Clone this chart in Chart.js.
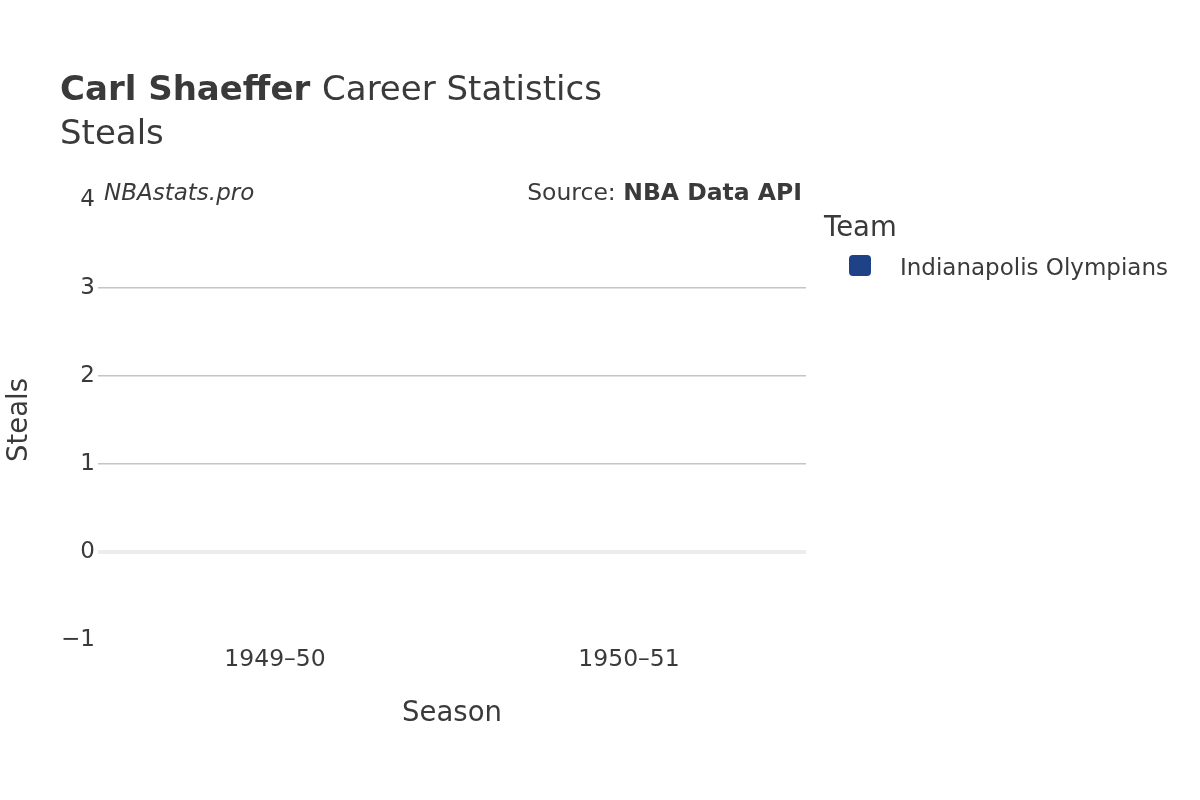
<!DOCTYPE html>
<html>
<head>
<meta charset="utf-8">
<script src="https://cdn.jsdelivr.net/npm/chart.js@4"></script>
<style>
  html, body { margin: 0; padding: 0; background: #fff; }
  #wrap { width: 1200px; height: 800px; }
</style>
</head>
<body>
<div id="wrap"><canvas id="chart" width="1200" height="800"></canvas></div>
<script>
const seasons = ["1949–50", "1950–51"];
const teamName = "Indianapolis Olympians";
const steals = [0, 0];
const teamColor = "#1f4287";
const FONT = "'DejaVu Sans', sans-serif";
const TEXT = "#3a3a3a";

// draws titles, annotations, axis titles and the legend
const overlay = {
  id: "overlay",
  afterDraw(chart) {
    const ctx = chart.ctx;
    const a = chart.chartArea;
    ctx.save();
    ctx.fillStyle = TEXT;
    ctx.textBaseline = "alphabetic";
    ctx.textAlign = "left";
    ctx.font = "bold 34px " + FONT;
    ctx.fillText("Carl Shaeffer", 60, 100);
    const w = ctx.measureText("Carl Shaeffer ").width;
    ctx.font = "34px " + FONT;
    ctx.fillText("Career Statistics", 60 + w, 100);
    ctx.fillText("Steals", 60, 144);

    ctx.font = "italic 23px " + FONT;
    ctx.fillText("NBAstats.pro", 104, 200);
    ctx.textAlign = "right";
    ctx.font = "bold 23.5px " + FONT;
    ctx.fillText("NBA Data API", 802, 200);
    const bw = ctx.measureText("NBA Data API").width;
    ctx.font = "23.5px " + FONT;
    ctx.fillText("Source: ", 802 - bw, 200);

    ctx.textAlign = "center";
    ctx.font = "27.5px " + FONT;
    ctx.fillText("Season", (a.left + a.right) / 2, 721);
    ctx.save();
    ctx.translate(27, (a.top + a.bottom) / 2);
    ctx.rotate(-Math.PI / 2);
    ctx.fillText("Steals", 0, 0);
    ctx.restore();

    ctx.textAlign = "left";
    ctx.fillText("Team", 824, 236);
    ctx.fillStyle = teamColor;
    ctx.beginPath();
    ctx.roundRect(849, 255, 22, 21, 4);
    ctx.fill();
    ctx.fillStyle = TEXT;
    ctx.font = "23px " + FONT;
    ctx.fillText(teamName, 900, 275);
    ctx.restore();
  }
};

new Chart(document.getElementById("chart"), {
  type: "bar",
  data: {
    labels: seasons,
    datasets: [{ label: teamName, data: steals, backgroundColor: teamColor }]
  },
  options: {
    responsive: false,
    animation: false,
    layout: { padding: { left: 0, top: 200, right: 394, bottom: 0 } },
    plugins: { legend: { display: false }, title: { display: false }, tooltip: { enabled: false } },
    scales: {
      y: {
        min: -1, max: 4,
        afterFit: (s) => { s.width = 98; },
        ticks: { stepSize: 1, color: TEXT, font: { family: FONT, size: 23 }, padding: 3,
                 callback: (v) => (v < 0 ? "−" + Math.abs(v) : v) },
        border: { display: false },
        grid: {
          drawTicks: false,
          color: (c) => (c.tick.value === 0 ? "#ececec" : (c.tick.value === 4 || c.tick.value === -1) ? "rgba(0,0,0,0)" : "#c4c4c4"),
          lineWidth: (c) => (c.tick.value === 0 ? 4 : 1.5)
        }
      },
      x: {
        afterFit: (s) => { s.height = 160; },
        ticks: { color: TEXT, font: { family: FONT, size: 23.5 }, padding: 6 },
        border: { display: false },
        grid: { display: false, drawTicks: false }
      }
    }
  },
  plugins: [overlay]
});
</script>
</body>
</html>
